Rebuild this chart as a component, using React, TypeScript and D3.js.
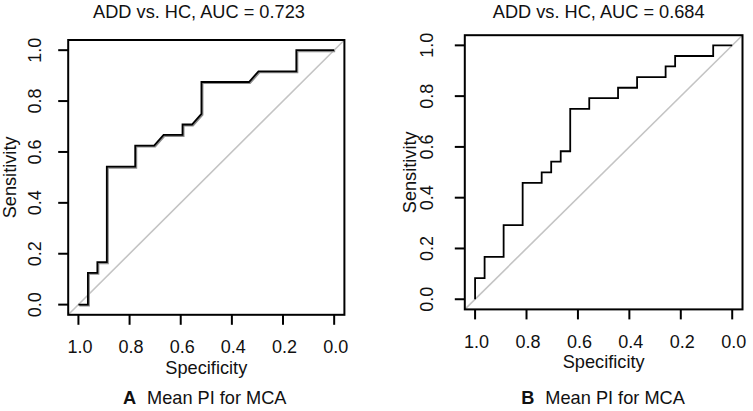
import React from "react";
import * as d3 from "d3";

// ---- Data ----
const specA = [1, 0.963, 0.963, 0.926, 0.926, 0.889, 0.889, 0.778, 0.778, 0.704, 0.667, 0.593, 0.593, 0.556, 0.519, 0.519, 0.333, 0.296, 0.148, 0.148, 0];
const sensA = [0, 0, 0.125, 0.125, 0.167, 0.167, 0.542, 0.542, 0.625, 0.625, 0.667, 0.667, 0.708, 0.708, 0.75, 0.875, 0.875, 0.917, 0.917, 1, 1];

const specB = [1, 1, 0.963, 0.963, 0.889, 0.889, 0.815, 0.815, 0.741, 0.741, 0.704, 0.704, 0.667, 0.667, 0.63, 0.63, 0.556, 0.556, 0.444, 0.444, 0.37, 0.37, 0.259, 0.259, 0.222, 0.222, 0.074, 0.074, 0];
const sensB = [0, 0.083, 0.083, 0.167, 0.167, 0.292, 0.292, 0.458, 0.458, 0.5, 0.5, 0.542, 0.542, 0.583, 0.583, 0.75, 0.75, 0.792, 0.792, 0.833, 0.833, 0.875, 0.875, 0.917, 0.917, 0.958, 0.958, 1, 1];

const tickValues = [1.0, 0.8, 0.6, 0.4, 0.2, 0.0];
const yTickValues = [0.0, 0.2, 0.4, 0.6, 0.8, 1.0];
const titles = ["ADD vs. HC, AUC = 0.723", "ADD vs. HC, AUC = 0.684"];
const panelLetters = ["A", "B"];
const panelCaption = "Mean PI for MCA";
const xLabel = "Specificity";
const yLabel = "Sensitivity";

const FONT = "'Liberation Sans', Arial, Helvetica, sans-serif";

type PanelProps = {
  spec: number[];
  sens: number[];
  left: number;
  right: number;
  top: number;
  bottom: number;
  title: string;
  titleX: number;
  letter: string;
  captionX: number;
  yTickX: number;
  yLabelX: number;
  shadow: boolean;
};

function Panel(p: PanelProps) {
  const x = d3.scaleLinear().domain([1.04, -0.04]).range([p.left, p.right]);
  const y = d3.scaleLinear().domain([-0.04, 1.04]).range([p.bottom, p.top]);
  const pts: [number, number][] = p.spec.map((s, i) => [s, p.sens[i]]);
  const line = d3
    .line<[number, number]>()
    .x((d) => x(d[0]))
    .y((d) => y(d[1]));
  const path = line(pts) || "";
  const tickLen = 10;
  const cx = (p.left + p.right) / 2;
  const cy = (p.top + p.bottom) / 2;
  return (
    <g>
      {/* identity line */}
      <line
        x1={x(1.04)}
        y1={y(-0.04)}
        x2={x(-0.04)}
        y2={y(1.04)}
        stroke="#c4c4c4"
        strokeWidth={1.6}
      />
      {p.shadow && (
        <path d={path} fill="none" stroke="#8c8c8c" strokeWidth={2} transform="translate(1,1)" />
      )}
      <path d={path} fill="none" stroke="#000" strokeWidth={1.8} />
      {/* box */}
      <rect
        x={p.left}
        y={p.top}
        width={p.right - p.left}
        height={p.bottom - p.top}
        fill="none"
        stroke="#000"
        strokeWidth={2}
      />
      {/* x axis */}
      {tickValues.map((t) => (
        <g key={"x" + t}>
          <line x1={x(t)} x2={x(t)} y1={p.bottom} y2={p.bottom + tickLen} stroke="#000" strokeWidth={2} />
          <text x={x(t) + 1.5} y={p.bottom + 38.5} textAnchor="middle" fontSize={18} fontFamily={FONT} fill="#111">
            {t.toFixed(1)}
          </text>
        </g>
      ))}
      {/* y axis */}
      {yTickValues.map((t) => (
        <g key={"y" + t}>
          <line x1={p.left} x2={p.left - tickLen} y1={y(t)} y2={y(t)} stroke="#000" strokeWidth={2} />
          <text
            transform={`translate(${p.yTickX},${y(t)}) rotate(-90)`}
            textAnchor="middle"
            fontSize={18}
            fontFamily={FONT}
            fill="#111"
          >
            {t.toFixed(1)}
          </text>
        </g>
      ))}
      <text x={cx} y={p.bottom + 59} textAnchor="middle" fontSize={18.2} fontFamily={FONT} fill="#111">
        {xLabel}
      </text>
      <text
        transform={`translate(${p.yLabelX},${cy}) rotate(-90)`}
        textAnchor="middle"
        fontSize={18.2}
        fontFamily={FONT}
        fill="#111"
      >
        {yLabel}
      </text>
      <text x={p.titleX} y={17.5} textAnchor="middle" fontSize={18.2} fontFamily={FONT} fill="#111">
        {p.title}
      </text>
      <text x={p.captionX} y={404} textAnchor="middle" fontSize={18.2} fontFamily={FONT} fill="#111">
        <tspan fontWeight="bold">{p.letter}</tspan>
        <tspan dx={11}>{panelCaption}</tspan>
      </text>
    </g>
  );
}

export default function App() {
  return (
    <div style={{ position: "absolute", left: 0, top: 0 }}>
      <svg width={753} height={411} style={{ display: "block", background: "#fff" }}>
        <rect x={0} y={0} width={753} height={411} fill="#fff" />
        <Panel
          spec={specA}
          sens={sensA}
          left={68.2}
          right={344.4}
          top={40}
          bottom={314.8}
          title={titles[0]}
          titleX={199}
          letter={panelLetters[0]}
          captionX={204.7}
          yTickX={40.5}
          yLabelX={15.5}
          shadow={true}
        />
        <Panel
          spec={specB}
          sens={sensB}
          left={464.8}
          right={742.5}
          top={35.2}
          bottom={309.4}
          title={titles[1]}
          titleX={598.7}
          letter={panelLetters[1]}
          captionX={603}
          yTickX={433}
          yLabelX={415.5}
          shadow={false}
        />
      </svg>
    </div>
  );
}
